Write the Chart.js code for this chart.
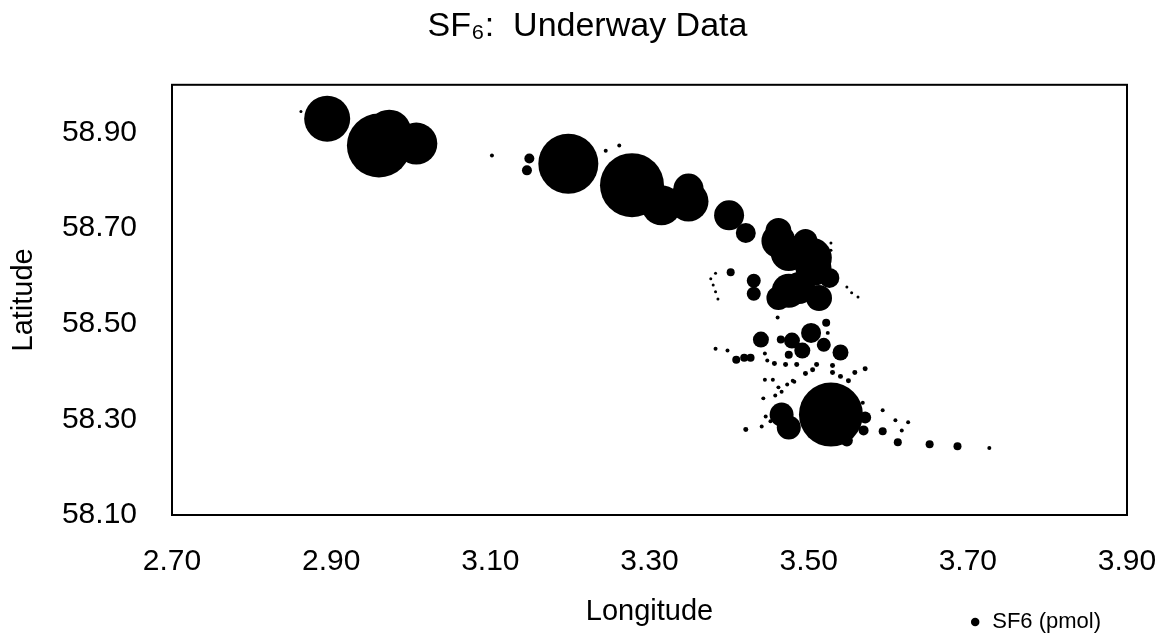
<!DOCTYPE html>
<html>
<head>
<meta charset="utf-8">
<script src="https://cdn.jsdelivr.net/npm/chart.js@4.4.1/dist/chart.umd.min.js"></script>
<style>
  html, body { margin: 0; padding: 0; background: #fff; }
</style>
</head>
<body>
<canvas id="chart" width="1168" height="634"></canvas>
<script>
// longitude / latitude of each underway sample, SF6 in pmol
const lon = [
  2.862, 2.895, 2.960, 2.973, 3.007, 3.102, 3.149, 3.146, 3.198, 3.245,
  3.262, 3.278, 3.315, 3.349, 3.349, 3.400, 3.421, 3.462, 3.504, 3.475,
  3.513, 3.526, 3.431, 3.431, 3.383, 3.377, 3.380, 3.383, 3.386, 3.402,
  3.548, 3.554, 3.562, 3.461, 3.522, 3.440, 3.503, 3.479, 3.465, 3.492,
  3.519, 3.540, 3.475, 3.524, 3.383, 3.398, 3.409, 3.419, 3.427, 3.445,
  3.448, 3.457, 3.471, 3.485, 3.496, 3.505, 3.510, 3.530, 3.530, 3.540,
  3.550, 3.558, 3.571, 3.445, 3.455, 3.480, 3.462, 3.528, 3.466, 3.475,
  3.571, 3.569, 3.548, 3.593, 3.612, 3.652, 3.687, 3.727, 3.421, 3.441,
  3.446, 3.452, 3.443, 3.458, 3.466, 3.473, 3.482, 3.568, 3.593, 3.609,
  3.625, 3.617, 3.462, 3.496, 3.475, 3.506, 3.488, 3.462, 3.528, 3.528,
];
const lat = [
  58.944, 58.929, 58.873, 58.902, 58.877, 58.852, 58.846, 58.821, 58.835, 58.862,
  58.873, 58.790, 58.748, 58.756, 58.783, 58.727, 58.690, 58.673, 58.638, 58.569,
  58.554, 58.596, 58.590, 58.563, 58.606, 58.594, 58.581, 58.567, 58.552, 58.608,
  58.577, 58.565, 58.556, 58.513, 58.502, 58.467, 58.481, 58.465, 58.467, 58.444,
  58.456, 58.440, 58.435, 58.481, 58.448, 58.444, 58.425, 58.429, 58.429, 58.438,
  58.423, 58.417, 58.415, 58.415, 58.396, 58.404, 58.415, 58.413, 58.398, 58.390,
  58.381, 58.398, 58.406, 58.383, 58.383, 58.381, 58.367, 58.310, 58.310, 58.283,
  58.304, 58.277, 58.256, 58.275, 58.252, 58.248, 58.244, 58.240, 58.279, 58.285,
  58.306, 58.296, 58.344, 58.350, 58.358, 58.373, 58.379, 58.335, 58.319, 58.298,
  58.294, 58.277, 58.694, 58.673, 58.648, 58.617, 58.575, 58.554, 58.669, 58.654,
];
const sf6 = [
  0.25, 58.8, 113.8, 53.8, 49.0, 0.44, 2.78, 2.78, 100.0, 0.44,
  0.44, 113.8, 44.4, 44.4, 25.0, 25.0, 11.1, 32.1, 44.4, 32.1,
  18.8, 11.1, 5.44, 5.44, 0.25, 0.25, 0.25, 0.25, 0.25, 1.78,
  0.25, 0.25, 0.25, 0.44, 1.78, 7.1, 11.1, 7.1, 1.78, 7.1,
  5.44, 7.1, 1.78, 0.44, 0.44, 0.44, 1.78, 1.78, 1.78, 0.44,
  0.44, 0.69, 0.69, 0.69, 0.69, 0.69, 0.69, 0.69, 0.69, 0.69,
  0.69, 0.69, 0.69, 0.44, 0.44, 0.44, 0.44, 113.8, 16.0, 16.0,
  4.0, 2.78, 4.0, 1.78, 1.78, 1.78, 1.78, 0.44, 0.69, 0.44,
  0.44, 0.44, 0.44, 0.44, 0.44, 0.44, 0.44, 0.44, 0.44, 0.44,
  0.44, 0.44, 18.8, 16.0, 36.0, 36.0, 28.4, 16.0, 0.25, 0.25,
];

const xTicks = [2.7, 2.9, 3.1, 3.3, 3.5, 3.7, 3.9];
const yTicks = [58.1, 58.3, 58.5, 58.7, 58.9];

const font = "'Liberation Sans', Arial, sans-serif";
Chart.defaults.font.family = font;
Chart.defaults.color = "#000";

// black frame round the plot area, like the spreadsheet chart
const plotBorder = {
  id: "plotBorder",
  afterDraw(chart) {
    const { ctx, chartArea: a } = chart;
    ctx.save();
    ctx.strokeStyle = "#000";
    ctx.lineWidth = 2;
    ctx.strokeRect(a.left, a.top, a.right - a.left, a.bottom - a.top);
    ctx.restore();
  },
};

new Chart(document.getElementById("chart").getContext("2d"), {
  type: "bubble",
  data: {
    datasets: [
      {
        label: "SF6 (pmol)",
        data: lon.map((x, i) => ({ x, y: lat[i], r: 3 * Math.sqrt(sf6[i]) })),
        backgroundColor: "#000",
        borderColor: "#000",
        borderWidth: 0,
        pointStyle: "circle",
      },
    ],
  },
  options: {
    responsive: false,
    animation: false,
    layout: { padding: { top: 0, right: 41, bottom: -9, left: 48 } },
    plugins: {
      title: {
        display: true,
        text: "SF\u2086:  Underway Data",
        font: { size: 34, weight: "normal" },
        color: "#000",
        padding: { top: 6, bottom: 38 },
      },
      legend: {
        position: "bottom",
        align: "end",
        labels: {
          usePointStyle: true,
          pointStyle: "circle",
          boxWidth: 12,
          boxHeight: 6,
          padding: 26,
          font: { size: 22 },
          color: "#000",
        },
      },
      tooltip: { enabled: false },
    },
    scales: {
      x: {
        type: "linear",
        min: 2.7,
        max: 3.9,
        afterBuildTicks: (s) => { s.ticks = xTicks.map((v) => ({ value: v })); },
        afterFit: (s) => {
          s.height = 70;
          s.paddingLeft = 0;
          s.paddingRight = 0;
        },
        ticks: {
          callback: (v) => v.toFixed(2),
          font: { size: 30 },
          padding: 29,
          maxRotation: 0,
          autoSkip: false,
        },
        grid: { display: false, drawTicks: false },
        border: { display: false },
        title: {
          display: true,
          text: "Longitude",
          font: { size: 29 },
          padding: { top: 0, bottom: -44 },
        },
      },
      y: {
        type: "linear",
        min: 58.1,
        max: 59.0,
        afterBuildTicks: (s) => { s.ticks = yTicks.map((v) => ({ value: v })); },
        afterFit: (s) => { s.width = 124; },
        ticks: {
          callback: (v) => v.toFixed(2),
          font: { size: 30 },
          padding: 35,
          autoSkip: false,
        },
        grid: { display: false, drawTicks: false },
        border: { display: false },
        title: {
          display: true,
          text: "Latitude",
          font: { size: 29 },
          padding: { top: -41, bottom: 0 },
        },
      },
    },
  },
  plugins: [plotBorder],
});
</script>
</body>
</html>
